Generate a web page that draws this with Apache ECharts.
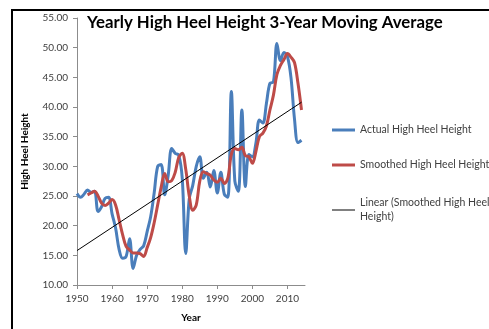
<!DOCTYPE html>
<html>
<head>
<meta charset="utf-8">
<script src="https://cdn.jsdelivr.net/npm/echarts@6/dist/echarts.min.js"></script>
<style>
  html, body { margin: 0; padding: 0; background: #fff; }
  #chart { width: 489px; height: 329px; }
</style>
</head>
<body>
<div id="chart"></div>
<script>
// Yearly heel heights, 1950-2014
const actualYears = [
  1950, 1951, 1952, 1953, 1954, 1955, 1956, 1957, 1958, 1959,
  1960, 1961, 1962, 1963, 1964, 1965, 1966, 1967, 1968, 1969,
  1970, 1971, 1972, 1973, 1974, 1975, 1976, 1977, 1978, 1979,
  1980, 1981, 1982, 1983, 1984, 1985, 1986, 1987, 1988, 1989,
  1990, 1991, 1992, 1993, 1994, 1995, 1996, 1997, 1998, 1999,
  2000, 2001, 2002, 2003, 2004, 2005, 2006, 2007, 2008, 2009,
  2010, 2011, 2012, 2013, 2014
];
const actualHeight = [
  25.4, 24.8, 25.3, 26.0, 25.6, 25.8, 22.4, 23.2, 24.6, 24.8,
  22.0, 19.6, 16.0, 14.5, 14.8, 17.8, 12.8, 15.0, 16.0, 16.6,
  19.0, 21.5, 25.5, 30.0, 30.3, 25.2, 28.5, 33.0, 32.2, 31.9,
  28.0, 15.3, 24.5, 26.8, 30.0, 31.6, 28.0, 29.0, 26.5, 29.3,
  25.5, 29.0, 25.3, 24.8, 42.6, 27.5, 25.8, 39.5, 26.6, 32.0,
  31.6, 33.9, 37.8, 37.3, 40.6, 44.0, 44.2, 50.7, 47.8, 49.2,
  48.5, 45.0, 38.0, 34.0, 34.4
];

// 3-year moving average, from 1953
const smoothYears = [
  1953, 1954, 1955, 1956, 1957, 1958, 1959, 1960, 1961, 1962,
  1963, 1964, 1965, 1966, 1967, 1968, 1969, 1970, 1971, 1972,
  1973, 1974, 1975, 1976, 1977, 1978, 1979, 1980, 1981, 1982,
  1983, 1984, 1985, 1986, 1987, 1988, 1989, 1990, 1991, 1992,
  1993, 1994, 1995, 1996, 1997, 1998, 1999, 2000, 2001, 2002,
  2003, 2004, 2005, 2006, 2007, 2008, 2009, 2010, 2011, 2012,
  2013, 2014
];
const smoothHeight = [
  25.2, 25.5, 25.8, 25.0, 23.8, 23.4, 23.8, 24.4, 23.5, 21.0,
  18.5, 16.5, 15.9, 15.4, 15.4, 15.3, 14.8, 16.3, 18.0, 20.5,
  23.5, 26.5, 28.8, 27.4, 27.6, 29.0, 31.5, 32.2, 29.5, 25.0,
  22.6, 23.5, 27.5, 29.1, 28.8, 28.5, 27.7, 27.3, 28.0, 27.1,
  28.0, 32.0, 33.0, 32.8, 33.2, 31.8, 31.6, 30.5, 32.5, 35.0,
  35.6, 36.8, 39.5, 42.0, 45.5, 47.0, 48.0, 49.0, 48.4, 47.5,
  44.0, 39.5
];

// Linear trend of the moving average (end points)
const trendYears = [1950, 2014];
const trendHeight = [15.8, 40.8];

// Axis ticks
const xTicks = [1950, 1960, 1970, 1980, 1990, 2000, 2010];
const yMin = 10, yMax = 55, yStep = 5;

const seriesNames = [
  'Actual High Heel Height',
  'Smoothed High Heel Height',
  'Linear (Smoothed High Heel Height)'
];
const seriesColors = ['#4a7ebb', '#be4b48', '#000000'];

const pairs = (xs, ys) => xs.map((x, i) => [x, ys[i]]);

const font = 'Lato, "Open Sans", sans-serif';
const axisGrey = '#8c8c8c';
const textGrey = '#404040';

const chart = echarts.init(document.getElementById('chart'), null, { renderer: 'canvas' });

function legendFor(name, top, lineH, extra) {
  return Object.assign({
    data: [{ name: name, icon: 'rect' }],
    left: 332,
    top: top,
    padding: 0,
    itemWidth: 23,
    itemHeight: lineH,
    itemGap: 0,
    selectedMode: false,
    textStyle: { fontFamily: font, fontSize: 10.5, color: textGrey, lineHeight: 14 }
  }, extra || {});
}

chart.setOption({
  backgroundColor: '#ffffff',
  animation: false,
  title: {
    text: 'Yearly High Heel Height 3-Year Moving Average',
    left: 87,
    top: 14,
    padding: 0,
    textStyle: { fontFamily: font, fontSize: 16.8, fontWeight: 'bold', color: '#000' }
  },
  grid: { left: 77, top: 18, right: 184, bottom: 44 },
  legend: [
    legendFor(seriesNames[0], 123, 3),
    legendFor(seriesNames[1], 158, 3),
    legendFor(seriesNames[2], 189, 1, {
      formatter: () => 'Linear (Smoothed High Heel\nHeight)',
      textStyle: { fontFamily: font, fontSize: 10.5, color: textGrey, lineHeight: 14, padding: [14, 0, 0, 0] }
    })
  ],
  xAxis: {
    type: 'value',
    min: 1950,
    max: 2015,
    interval: 10,
    name: 'Year',
    nameLocation: 'middle',
    nameGap: 28,
    nameTextStyle: { fontFamily: font, fontSize: 10, fontWeight: 'bold', color: '#000' },
    axisLine: { show: true, lineStyle: { color: axisGrey, width: 1 } },
    axisTick: { show: true, length: 4, customValues: xTicks, lineStyle: { color: axisGrey } },
    axisLabel: {
      customValues: xTicks, margin: 9, fontFamily: font, fontSize: 10, color: textGrey,
      formatter: v => String(v)
    },
    splitLine: { show: false }
  },
  yAxis: {
    type: 'value',
    min: yMin,
    max: yMax,
    interval: yStep,
    name: 'High Heel Height',
    nameLocation: 'middle',
    nameGap: 47,
    nameTextStyle: { fontFamily: font, fontSize: 10, fontWeight: 'bold', color: '#000' },
    axisLine: { show: true, lineStyle: { color: axisGrey, width: 1 } },
    axisTick: { show: true, length: 4, lineStyle: { color: axisGrey } },
    axisLabel: {
      margin: 9, fontFamily: font, fontSize: 10, color: textGrey,
      formatter: v => v.toFixed(2)
    },
    splitLine: { show: false }
  },
  graphic: [{
    type: 'rect',
    shape: { x: 12, y: 10, width: 700, height: 500 },
    style: { fill: 'none', stroke: '#000', lineWidth: 2 },
    silent: true,
    z: 100
  }],
  series: [
    {
      name: seriesNames[0],
      type: 'line',
      data: pairs(actualYears, actualHeight),
      smooth: 0.35,
      symbol: 'none',
      lineStyle: { color: seriesColors[0], width: 3 },
      itemStyle: { color: seriesColors[0] },
      z: 2
    },
    {
      name: seriesNames[1],
      type: 'line',
      data: pairs(smoothYears, smoothHeight),
      smooth: 0.35,
      symbol: 'none',
      lineStyle: { color: seriesColors[1], width: 3 },
      itemStyle: { color: seriesColors[1] },
      z: 3
    },
    {
      name: seriesNames[2],
      type: 'line',
      data: pairs(trendYears, trendHeight),
      symbol: 'none',
      lineStyle: { color: seriesColors[2], width: 1 },
      itemStyle: { color: seriesColors[2] },
      z: 4
    }
  ]
});
</script>
</body>
</html>
